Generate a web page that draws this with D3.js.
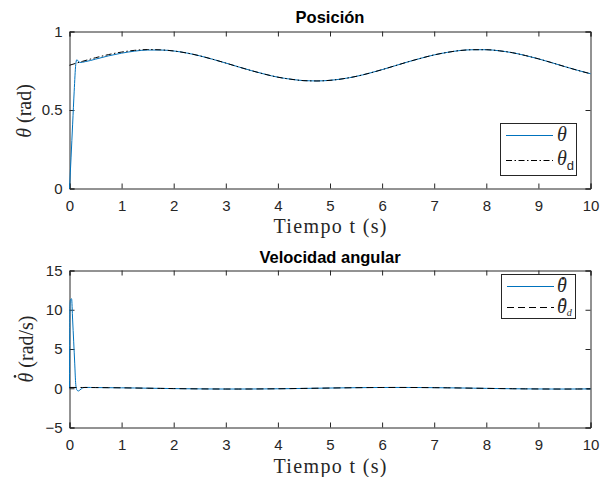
<!DOCTYPE html>
<html>
<head>
<meta charset="utf-8">
<script src="https://cdn.jsdelivr.net/npm/d3@7"></script>
<style>
  body { margin: 0; background: #fff; }
  .axis text { font-family: "Liberation Sans", Arial, sans-serif; font-size: 15px; fill: #262626; }
  .axis path, .axis line { stroke: #262626; }
  .title { font-family: "Liberation Sans", Arial, sans-serif; font-weight: bold; font-size: 16.5px; fill: #000; }
  .lab { font-family: "Liberation Serif", "Times New Roman", serif; font-size: 20px; fill: #262626; }
</style>
</head>
<body>
<svg id="chart" width="607" height="477"></svg>
<script>
// reference (desired) signals, sampled every 0.25 s
var tRef = [0, 0.25, 0.5, 0.75, 1, 1.25, 1.5, 1.75, 2, 2.25, 2.5, 2.75, 3, 3.25, 3.5, 3.75, 4, 4.25, 4.5, 4.75,
  5, 5.25, 5.5, 5.75, 6, 6.25, 6.5, 6.75, 7, 7.25, 7.5, 7.75, 8, 8.25, 8.5, 8.75, 9, 9.25, 9.5, 9.75, 10];
var thetaD = [0.785, 0.810, 0.833, 0.853, 0.869, 0.880, 0.885, 0.883, 0.876, 0.863, 0.845, 0.823, 0.799, 0.774,
  0.750, 0.728, 0.709, 0.696, 0.687, 0.685, 0.689, 0.699, 0.714, 0.734, 0.757, 0.782, 0.807, 0.830, 0.851,
  0.867, 0.879, 0.884, 0.884, 0.877, 0.865, 0.847, 0.826, 0.802, 0.777, 0.753, 0.731];
var omegaD = [0.100, 0.097, 0.088, 0.073, 0.054, 0.032, 0.007, -0.018, -0.042, -0.063, -0.080, -0.092, -0.099,
  -0.099, -0.094, -0.082, -0.065, -0.045, -0.021, 0.004, 0.028, 0.051, 0.071, 0.086, 0.096, 0.100, 0.098,
  0.090, 0.075, 0.057, 0.035, 0.010, -0.015, -0.039, -0.060, -0.078, -0.091, -0.098, -0.100, -0.094, -0.084];

// measured signals (dense at start-up)
var tTheta = [0, 0.03, 0.06, 0.09, 0.12, 0.14, 0.17, 0.2, 0.25, 0.3, 0.4, 0.5, 0.75, 1, 1.25, 1.5, 1.75, 2,
  2.25, 2.5, 2.75, 3, 3.25, 3.5, 3.75, 4, 4.25, 4.5, 4.75, 5, 5.25, 5.5, 5.75, 6, 6.25, 6.5, 6.75, 7, 7.25,
  7.5, 7.75, 8, 8.25, 8.5, 8.75, 9, 9.25, 9.5, 9.75, 10];
var theta = [0, 0.20, 0.41, 0.62, 0.79, 0.82, 0.81, 0.803, 0.804, 0.808, 0.815, 0.824, 0.845, 0.862, 0.875,
  0.882, 0.882, 0.876, 0.863, 0.845, 0.823, 0.799, 0.774, 0.750, 0.728, 0.709, 0.696, 0.687, 0.685, 0.689,
  0.699, 0.714, 0.734, 0.757, 0.782, 0.807, 0.830, 0.851, 0.867, 0.879, 0.884, 0.884, 0.877, 0.865, 0.847,
  0.826, 0.802, 0.777, 0.753, 0.731];
var tOmega = [0, 0.008, 0.02, 0.04, 0.06, 0.08, 0.1, 0.12, 0.14, 0.17, 0.2, 0.25, 0.3, 0.4, 0.5, 0.75, 1,
  1.25, 1.5, 1.75, 2, 2.25, 2.5, 2.75, 3, 3.25, 3.5, 3.75, 4, 4.25, 4.5, 4.75, 5, 5.25, 5.5, 5.75, 6, 6.25,
  6.5, 6.75, 7, 7.25, 7.5, 7.75, 8, 8.25, 8.5, 8.75, 9, 9.25, 9.5, 9.75, 10];
var omega = [0, 10.5, 11.3, 11.4, 8.7, 6.0, 3.2, 0.5, -0.2, -0.35, -0.22, 0.03, 0.11, 0.10, 0.088, 0.073,
  0.054, 0.032, 0.007, -0.018, -0.042, -0.063, -0.080, -0.092, -0.099, -0.099, -0.094, -0.082, -0.065,
  -0.045, -0.021, 0.004, 0.028, 0.051, 0.071, 0.086, 0.096, 0.100, 0.098, 0.090, 0.075, 0.057, 0.035,
  0.010, -0.015, -0.039, -0.060, -0.078, -0.091, -0.098, -0.100, -0.094, -0.084];

var xTicks = [0, 1, 2, 3, 4, 5, 6, 7, 8, 9, 10];
var yTicksPos = [0, 0.5, 1];
var yTicksVel = [-5, 0, 5, 10, 15];

var svg = d3.select("#chart");
var left = 69.5, right = 590.5;
var blue = "#0072BD";

var x = d3.scaleLinear().domain([0, 10]).range([left, right]);

function panel(top, bottom, yDomain, yTicks, yFmt) {
  var y = d3.scaleLinear().domain(yDomain).range([bottom, top]);
  var g = svg.append("g");
  g.append("rect").attr("x", left).attr("y", top).attr("width", right - left).attr("height", bottom - top)
    .attr("fill", "#fff");
  g.append("g").attr("class", "axis").attr("transform", "translate(0," + bottom + ")")
    .call(d3.axisBottom(x).tickValues(xTicks).tickSize(-5).tickPadding(12).tickFormat(d3.format("d")));
  g.append("g").attr("class", "axis").attr("transform", "translate(0," + top + ")")
    .call(d3.axisTop(x).tickValues(xTicks).tickSize(-5).tickFormat(""));
  g.append("g").attr("class", "axis").attr("transform", "translate(" + left + ",0)")
    .call(d3.axisLeft(y).tickValues(yTicks).tickSize(-5).tickPadding(7).tickFormat(yFmt));
  g.append("g").attr("class", "axis").attr("transform", "translate(" + right + ",0)")
    .call(d3.axisRight(y).tickValues(yTicks).tickSize(-5).tickFormat(""));
  g.selectAll(".axis path").attr("stroke-width", 1);
  return { g: g, y: y };
}

function drawLine(p, ts, vs, color, dash) {
  var line = d3.line().x(function (d, i) { return x(ts[i]); }).y(function (d) { return p.y(d); })
    .curve(d3.curveMonotoneX);
  p.g.append("path").datum(vs).attr("d", line).attr("fill", "none").attr("stroke", color)
    .attr("stroke-width", 1).attr("stroke-dasharray", dash);
}

// theta with a dot above it (LaTeX \dot{\theta}), then optional subscript and suffix
function dotTheta(parent, size, sub, suffix) {
  var t = parent.append("text").attr("class", "lab").attr("font-size", size);
  var th = t.append("tspan").attr("font-style", "italic").text("θ");
  if (sub) t.append("tspan").attr("dy", size * 0.2).attr("font-size", size * 0.68)
    .attr("font-style", "italic").text(sub);
  if (suffix) t.append("tspan").attr("dy", sub ? -size * 0.2 : 0).text(suffix);
  var w = th.node().getComputedTextLength();
  parent.append("circle").attr("cx", w * 0.62).attr("cy", -size * 0.9).attr("r", Math.max(1.2, size * 0.065))
    .attr("fill", "#262626");
  return t;
}

// ---- top: position
var p1 = panel(31.5, 188.5, [0, 1], yTicksPos, function (d) { return d === 0.5 ? "0.5" : d; });
drawLine(p1, tTheta, theta, blue, null);
drawLine(p1, tRef, thetaD, "#000", "6,2.5,1.5,2.5");

svg.append("text").attr("class", "title").attr("x", 330).attr("y", 23).attr("text-anchor", "middle").text("Posición");
svg.append("text").attr("class", "lab").attr("x", 330).attr("y", 233).attr("text-anchor", "middle")
  .attr("textLength", 113).text("Tiempo t (s)");
var yl1 = svg.append("text").attr("class", "lab").attr("transform", "translate(31,111) rotate(-90)")
  .attr("text-anchor", "middle");
yl1.append("tspan").attr("font-style", "italic").text("θ");
yl1.append("tspan").text(" (rad)");

// legend top
var lg1 = svg.append("g");
lg1.append("rect").attr("x", 500.5).attr("y", 123.5).attr("width", 76).attr("height", 52)
  .attr("fill", "#fff").attr("stroke", "#262626").attr("stroke-width", 1);
lg1.append("line").attr("x1", 506).attr("x2", 553).attr("y1", 135.5).attr("y2", 135.5)
  .attr("stroke", blue).attr("stroke-width", 1);
lg1.append("line").attr("x1", 506).attr("x2", 553).attr("y1", 160.5).attr("y2", 160.5)
  .attr("stroke", "#000").attr("stroke-width", 1).attr("stroke-dasharray", "6,2.5,1.5,2.5");
lg1.append("text").attr("class", "lab").attr("x", 557).attr("y", 141).attr("font-size", 17)
  .attr("font-style", "italic").text("θ");
var ld = lg1.append("text").attr("class", "lab").attr("x", 557).attr("y", 165).attr("font-size", 17);
ld.append("tspan").attr("font-style", "italic").text("θ");
ld.append("tspan").attr("dy", 5).attr("font-family", "Liberation Sans, Arial, sans-serif").attr("font-size", 13).text("d");

// ---- bottom: angular velocity
var p2 = panel(270.5, 427.5, [-5, 15], yTicksVel, d3.format("d"));
drawLine(p2, tOmega, omega, blue, null);
drawLine(p2, tRef, omegaD, "#000", "7,4");

svg.append("text").attr("class", "title").attr("x", 330).attr("y", 263).attr("text-anchor", "middle").text("Velocidad angular");
svg.append("text").attr("class", "lab").attr("x", 330).attr("y", 473).attr("text-anchor", "middle")
  .attr("textLength", 113).text("Tiempo t (s)");

var yl2g = svg.append("g").attr("transform", "translate(33,349) rotate(-90)");
var yl2 = yl2g.append("g");
dotTheta(yl2, 20, null, " (rad/s)");
var bw = yl2.select("text").node().getComputedTextLength();
yl2.attr("transform", "translate(" + (-bw / 2) + ",0)");

// legend bottom
var lg2 = svg.append("g");
lg2.append("rect").attr("x", 501.5).attr("y", 274.5).attr("width", 74).attr("height", 44)
  .attr("fill", "#fff").attr("stroke", "#262626").attr("stroke-width", 1);
lg2.append("line").attr("x1", 507).attr("x2", 554).attr("y1", 286.5).attr("y2", 286.5)
  .attr("stroke", blue).attr("stroke-width", 1);
lg2.append("line").attr("x1", 507).attr("x2", 554).attr("y1", 307.5).attr("y2", 307.5)
  .attr("stroke", "#000").attr("stroke-width", 1).attr("stroke-dasharray", "7,4");
dotTheta(lg2.append("g").attr("transform", "translate(557,292)"), 15, null, null);
dotTheta(lg2.append("g").attr("transform", "translate(557,313)"), 15, "d", null);
</script>
</body>
</html>
